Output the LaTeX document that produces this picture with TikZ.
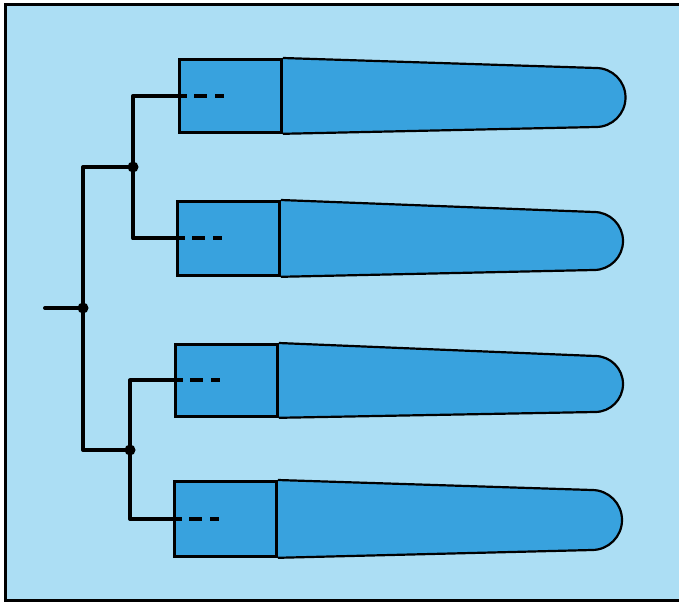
\documentclass[tikz,border=0pt]{standalone}
\usetikzlibrary{positioning, calc, backgrounds}
\definecolor{panelblue}{RGB}{172,222,244}
\definecolor{cellblue}{RGB}{56,162,222}

\begin{document}
\begin{tikzpicture}[x=1pt, y=-1pt,
    cellbox/.style={draw, fill=cellblue, line width=2.8pt, anchor=north west,
      minimum width=102pt, minimum height=73pt, inner sep=0pt},
    body/.style={draw, fill=cellblue, line width=2.2pt, line join=round},
    wire/.style={line width=4pt, line join=round, line cap=round},
    lead/.style={line width=4pt, dash pattern=on 9pt off 7pt on 13pt off 8pt},
    joint/.style={circle, fill=black, inner sep=0pt, minimum size=11pt}]
    \useasboundingbox (0,0) rectangle (679,604);
    \begin{scope}[on background layer]
      \fill[white] (0,0) rectangle (679,604);
      \fill[panelblue] (5,5) rectangle (685,600);
    \end{scope}
    \draw[line width=3pt] (685,5) -- (5,5) -- (5,600) -- (685,600);

    % the four cells
    \node[cellbox] (cellA) at (178,58) {};
    \node[cellbox, minimum height=74pt] (cellB) at (176,200) {};
    \node[cellbox, minimum height=72pt] (cellC) at (174,343) {};
    \node[cellbox, minimum height=75pt] (cellD) at (173,480) {};

    \begin{scope}[on background layer]
      \path[body] (cellA.north east) -- (596,68) arc[start angle=90, end angle=-90, radius=29.5pt] -- (cellA.south east);
      \path[body] (cellB.north east) -- (594,212) arc[start angle=90, end angle=-90, radius=29pt] -- (cellB.south east);
      \path[body] (cellC.north east) -- (595,356) arc[start angle=90, end angle=-90, radius=28pt] -- (cellC.south east);
      \path[body] (cellD.north east) -- (592,490) arc[start angle=90, end angle=-90, radius=30pt] -- (cellD.south east);
    \end{scope}

    % branching leads
    \coordinate (root) at (45,308);
    \node[joint] (jMain) at (83,308) {};
    \node[joint] (jTop) at (133,167) {};
    \node[joint] (jBot) at (130,450) {};

    \draw[wire] (root) -- (jMain.center);
    \draw[wire] (jTop.center) -| (jMain.center) |- (jBot.center);
    \draw[wire] (cellA.west) -| (jTop.center) |- (cellB.west);
    \draw[wire] (cellC.west) -| (jBot.center) |- (cellD.west);
    \draw[lead] (cellA.west) -- ++(49,0);
    \draw[lead] (cellB.west) -- ++(47,0);
    \draw[lead] (cellC.west) -- ++(48,0);
    \draw[lead] (cellD.west) -- ++(52,0);
\end{tikzpicture}
\end{document}
